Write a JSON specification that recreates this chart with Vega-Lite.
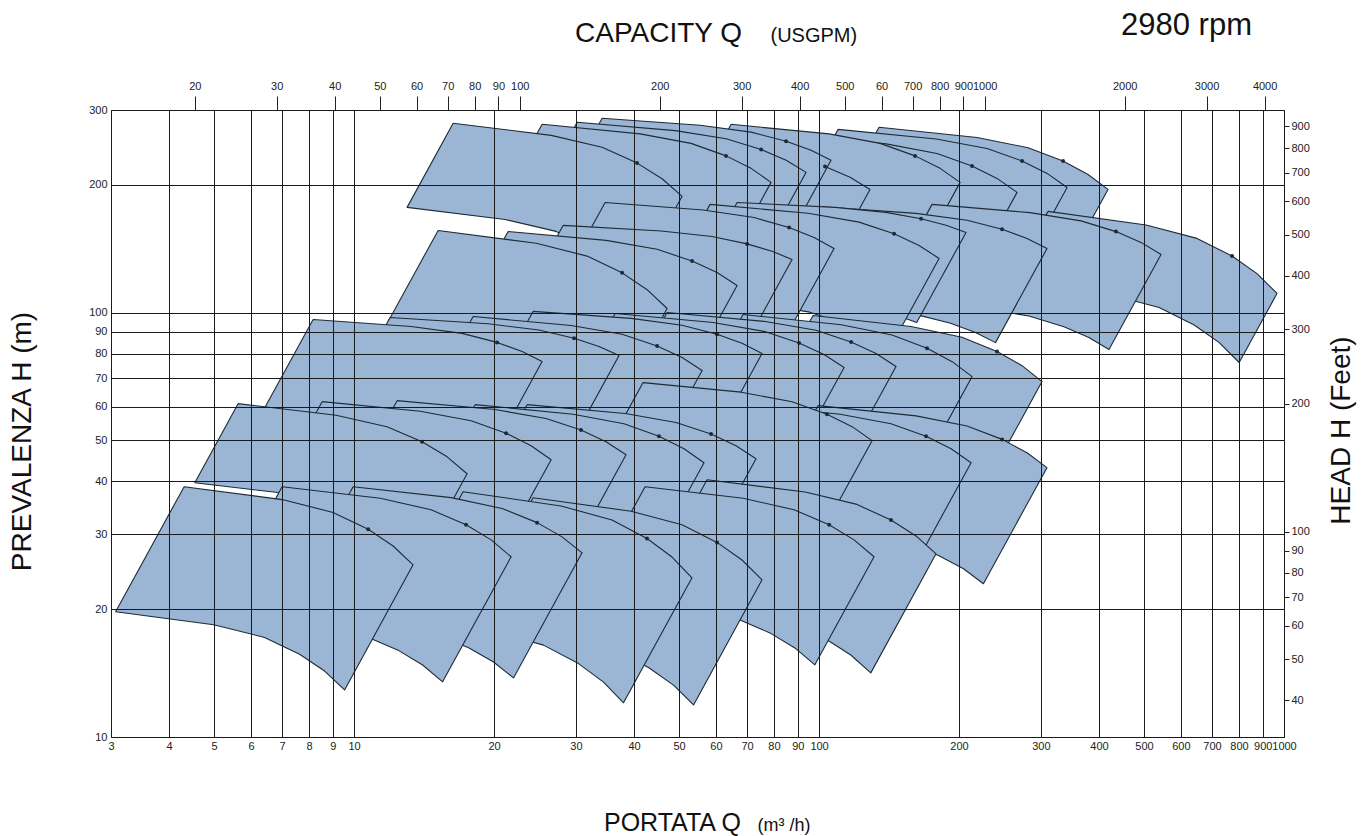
{
"$schema": "https://vega.github.io/schema/vega-lite/v6.json",
"width": 1173, "height": 627,
"autosize": {"type": "none"},
"padding": {"left": 111, "top": 110, "right": 86, "bottom": 99},
"background": "white",
"config": {"view": {"stroke": "#3a3a3a", "strokeWidth": 1}, "font": "Liberation Sans",
 "axis": {"labelFont": "Liberation Sans", "titleFont": "Liberation Sans", "labelColor": "#222", "titleColor": "#111", "titleFontWeight": "normal"}},
"title": {"text": "2980 rpm", "anchor": "end", "frame": "group", "fontSize": 31, "font": "Liberation Sans Narrow, Liberation Sans", "fontWeight": "normal", "color": "#111", "dx": -32, "dy": 27},
"datasets": {"tiles": [
{"t":"t00","i":0,"q":134.6,"h":273.1},{"t":"t00","i":1,"q":218.7,"h":258.4},{"t":"t00","i":2,"q":281.5,"h":244.5},{"t":"t00","i":3,"q":334.8,"h":227.4},{"t":"t00","i":4,"q":378.9,"h":211.5},{"t":"t00","i":5,"q":418.3,"h":195.0},{"t":"t00","i":6,"q":333.1,"h":123.6},{"t":"t00","i":7,"q":301.7,"h":134.1},{"t":"t00","i":8,"q":266.5,"h":144.1},{"t":"t00","i":9,"q":224.1,"h":155.0},{"t":"t00","i":10,"q":174.1,"h":163.8},{"t":"t00","i":11,"q":107.2,"h":173.1},{"t":"t00","i":12,"q":134.6,"h":273.1},
{"t":"t01","i":0,"q":109.9,"h":270.1},{"t":"t01","i":1,"q":178.6,"h":256.4},{"t":"t01","i":2,"q":229.8,"h":243.5},{"t":"t01","i":3,"q":273.3,"h":227.6},{"t":"t01","i":4,"q":309.4,"h":212.7},{"t":"t01","i":5,"q":341.6,"h":197.1},{"t":"t01","i":6,"q":272.0,"h":124.9},{"t":"t01","i":7,"q":246.3,"h":134.8},{"t":"t01","i":8,"q":217.6,"h":144.3},{"t":"t01","i":9,"q":183.0,"h":154.4},{"t":"t01","i":10,"q":142.2,"h":162.5},{"t":"t01","i":11,"q":87.5,"h":171.2},{"t":"t01","i":12,"q":109.9,"h":270.1},
{"t":"t02","i":0,"q":85.77,"h":262.9},{"t":"t02","i":1,"q":139.4,"h":249.6},{"t":"t02","i":2,"q":179.3,"h":237.0},{"t":"t02","i":3,"q":213.3,"h":221.5},{"t":"t02","i":4,"q":241.4,"h":207.0},{"t":"t02","i":5,"q":266.6,"h":191.9},{"t":"t02","i":6,"q":212.2,"h":121.6},{"t":"t02","i":7,"q":192.2,"h":131.2},{"t":"t02","i":8,"q":169.8,"h":140.4},{"t":"t02","i":9,"q":142.8,"h":150.2},{"t":"t02","i":10,"q":111.0,"h":158.2},{"t":"t02","i":11,"q":68.29,"h":166.7},{"t":"t02","i":12,"q":85.77,"h":262.9},
{"t":"t03","i":0,"q":64.69,"h":277.6},{"t":"t03","i":1,"q":105.1,"h":263.5},{"t":"t03","i":2,"q":135.3,"h":250.3},{"t":"t03","i":3,"q":160.9,"h":233.9},{"t":"t03","i":4,"q":182.1,"h":218.6},{"t":"t03","i":5,"q":201.1,"h":202.6},{"t":"t03","i":6,"q":160.1,"h":128.4},{"t":"t03","i":7,"q":145.0,"h":138.6},{"t":"t03","i":8,"q":128.1,"h":148.3},{"t":"t03","i":9,"q":107.7,"h":158.7},{"t":"t03","i":10,"q":83.70,"h":167.1},{"t":"t03","i":11,"q":51.51,"h":176.0},{"t":"t03","i":12,"q":64.69,"h":277.6},
{"t":"t04","i":0,"q":41.42,"h":255.9},{"t":"t04","i":1,"q":67.31,"h":244.7},{"t":"t04","i":2,"q":86.61,"h":234.0},{"t":"t04","i":3,"q":103.0,"h":220.8},{"t":"t04","i":4,"q":116.6,"h":208.3},{"t":"t04","i":5,"q":128.7,"h":195.0},{"t":"t04","i":6,"q":102.5,"h":123.6},{"t":"t04","i":7,"q":92.84,"h":132.0},{"t":"t04","i":8,"q":82.02,"h":140.0},{"t":"t04","i":9,"q":68.96,"h":148.3},{"t":"t04","i":10,"q":53.59,"h":155.1},{"t":"t04","i":11,"q":32.98,"h":162.2},{"t":"t04","i":12,"q":41.42,"h":255.9},
{"t":"t05","i":0,"q":34.15,"h":286.8},{"t":"t05","i":1,"q":55.49,"h":276.2},{"t":"t05","i":2,"q":71.41,"h":266.1},{"t":"t05","i":3,"q":84.93,"h":253.3},{"t":"t05","i":4,"q":96.13,"h":241.2},{"t":"t05","i":5,"q":106.1,"h":228.3},{"t":"t05","i":6,"q":84.51,"h":144.7},{"t":"t05","i":7,"q":76.54,"h":152.9},{"t":"t05","i":8,"q":67.62,"h":160.6},{"t":"t05","i":9,"q":56.86,"h":168.7},{"t":"t05","i":10,"q":44.18,"h":175.1},{"t":"t05","i":11,"q":27.19,"h":181.8},{"t":"t05","i":12,"q":34.15,"h":286.8},
{"t":"t06","i":0,"q":30.18,"h":280.6},{"t":"t06","i":1,"q":49.04,"h":268.3},{"t":"t06","i":2,"q":63.11,"h":256.6},{"t":"t06","i":3,"q":75.06,"h":242.1},{"t":"t06","i":4,"q":84.96,"h":228.4},{"t":"t06","i":5,"q":93.80,"h":213.9},{"t":"t06","i":6,"q":74.68,"h":135.6},{"t":"t06","i":7,"q":67.65,"h":144.8},{"t":"t06","i":8,"q":59.76,"h":153.5},{"t":"t06","i":9,"q":50.25,"h":162.7},{"t":"t06","i":10,"q":39.05,"h":170.1},{"t":"t06","i":11,"q":24.03,"h":177.9},{"t":"t06","i":12,"q":30.18,"h":280.6},
{"t":"t07","i":0,"q":25.37,"h":277.6},{"t":"t07","i":1,"q":41.23,"h":263.5},{"t":"t07","i":2,"q":53.05,"h":250.3},{"t":"t07","i":3,"q":63.10,"h":233.9},{"t":"t07","i":4,"q":71.42,"h":218.6},{"t":"t07","i":5,"q":78.85,"h":202.6},{"t":"t07","i":6,"q":62.78,"h":128.4},{"t":"t07","i":7,"q":56.86,"h":138.6},{"t":"t07","i":8,"q":50.24,"h":148.3},{"t":"t07","i":9,"q":42.24,"h":158.7},{"t":"t07","i":10,"q":32.83,"h":167.1},{"t":"t07","i":11,"q":20.20,"h":176.0},{"t":"t07","i":12,"q":25.37,"h":277.6},
{"t":"t08","i":0,"q":16.33,"h":279.1},{"t":"t08","i":1,"q":26.54,"h":261.4},{"t":"t08","i":2,"q":34.15,"h":245.0},{"t":"t08","i":3,"q":40.61,"h":224.9},{"t":"t08","i":4,"q":45.97,"h":206.6},{"t":"t08","i":5,"q":50.75,"h":187.8},{"t":"t08","i":6,"q":40.41,"h":119.0},{"t":"t08","i":7,"q":36.60,"h":131.0},{"t":"t08","i":8,"q":32.33,"h":142.6},{"t":"t08","i":9,"q":27.19,"h":155.3},{"t":"t08","i":10,"q":21.13,"h":165.7},{"t":"t08","i":11,"q":13.00,"h":176.9},{"t":"t08","i":12,"q":16.33,"h":279.1},
{"t":"t09","i":0,"q":310.8,"h":173.1},{"t":"t09","i":1,"q":505.1,"h":160.8},{"t":"t09","i":2,"q":649.9,"h":149.5},{"t":"t09","i":3,"q":773.0,"h":135.9},{"t":"t09","i":4,"q":874.9,"h":123.5},{"t":"t09","i":5,"q":966.0,"h":110.9},{"t":"t09","i":6,"q":801.0,"h":76.25},{"t":"t09","i":7,"q":725.5,"h":84.92},{"t":"t09","i":8,"q":641.0,"h":93.44},{"t":"t09","i":9,"q":538.9,"h":102.8},{"t":"t09","i":10,"q":418.8,"h":110.6},{"t":"t09","i":11,"q":257.7,"h":119.0},{"t":"t09","i":12,"q":310.8,"h":173.1},
{"t":"t10","i":0,"q":175.0,"h":179.8},{"t":"t10","i":1,"q":284.4,"h":171.9},{"t":"t10","i":2,"q":365.9,"h":164.4},{"t":"t10","i":3,"q":435.2,"h":155.1},{"t":"t10","i":4,"q":492.6,"h":146.3},{"t":"t10","i":5,"q":543.9,"h":137.0},{"t":"t10","i":6,"q":420.3,"h":81.80},{"t":"t10","i":7,"q":380.6,"h":87.36},{"t":"t10","i":8,"q":336.3,"h":92.61},{"t":"t10","i":9,"q":282.7,"h":98.16},{"t":"t10","i":10,"q":219.8,"h":102.6},{"t":"t10","i":11,"q":135.2,"h":107.4},{"t":"t10","i":12,"q":175.0,"h":179.8},
{"t":"t11","i":0,"q":99.50,"h":177.8},{"t":"t11","i":1,"q":161.7,"h":171.2},{"t":"t11","i":2,"q":208.1,"h":164.9},{"t":"t11","i":3,"q":247.5,"h":157.1},{"t":"t11","i":4,"q":280.1,"h":149.5},{"t":"t11","i":5,"q":309.2,"h":141.5},{"t":"t11","i":6,"q":239.6,"h":84.94},{"t":"t11","i":7,"q":217.0,"h":89.75},{"t":"t11","i":8,"q":191.8,"h":94.31},{"t":"t11","i":9,"q":161.2,"h":98.99},{"t":"t11","i":10,"q":125.3,"h":102.8},{"t":"t11","i":11,"q":77.09,"h":106.7},{"t":"t11","i":12,"q":99.50,"h":177.8},
{"t":"t12","i":0,"q":66.64,"h":181.7},{"t":"t12","i":1,"q":108.3,"h":176.9},{"t":"t12","i":2,"q":139.3,"h":172.2},{"t":"t12","i":3,"q":165.7,"h":166.3},{"t":"t12","i":4,"q":187.6,"h":160.6},{"t":"t12","i":5,"q":207.1,"h":154.4},{"t":"t12","i":6,"q":162.2,"h":94.74},{"t":"t12","i":7,"q":146.9,"h":98.54},{"t":"t12","i":8,"q":129.8,"h":102.0},{"t":"t12","i":9,"q":109.1,"h":105.7},{"t":"t12","i":10,"q":84.83,"h":108.5},{"t":"t12","i":11,"q":52.20,"h":111.5},{"t":"t12","i":12,"q":66.64,"h":181.7},
{"t":"t13","i":0,"q":58.29,"h":179.8},{"t":"t13","i":1,"q":94.72,"h":171.3},{"t":"t13","i":2,"q":121.9,"h":163.3},{"t":"t13","i":3,"q":145.0,"h":153.3},{"t":"t13","i":4,"q":164.1,"h":143.9},{"t":"t13","i":5,"q":181.2,"h":134.1},{"t":"t13","i":6,"q":141.9,"h":82.28},{"t":"t13","i":7,"q":128.5,"h":88.30},{"t":"t13","i":8,"q":113.6,"h":94.06},{"t":"t13","i":9,"q":95.48,"h":100.2},{"t":"t13","i":10,"q":74.19,"h":105.1},{"t":"t13","i":11,"q":45.66,"h":110.3},{"t":"t13","i":12,"q":58.29,"h":179.8},
{"t":"t14","i":0,"q":34.66,"h":181.7},{"t":"t14","i":1,"q":56.32,"h":174.4},{"t":"t14","i":2,"q":72.47,"h":167.4},{"t":"t14","i":3,"q":86.20,"h":158.6},{"t":"t14","i":4,"q":97.57,"h":150.3},{"t":"t14","i":5,"q":107.7,"h":141.5},{"t":"t14","i":6,"q":84.38,"h":86.82},{"t":"t14","i":7,"q":76.43,"h":92.22},{"t":"t14","i":8,"q":67.52,"h":97.32},{"t":"t14","i":9,"q":56.77,"h":102.7},{"t":"t14","i":10,"q":44.12,"h":107.0},{"t":"t14","i":11,"q":27.15,"h":111.5},{"t":"t14","i":12,"q":34.66,"h":181.7},
{"t":"t15","i":0,"q":28.15,"h":160.4},{"t":"t15","i":1,"q":45.74,"h":155.6},{"t":"t15","i":2,"q":58.86,"h":151.0},{"t":"t15","i":3,"q":70.01,"h":145.1},{"t":"t15","i":4,"q":79.24,"h":139.4},{"t":"t15","i":5,"q":87.49,"h":133.4},{"t":"t15","i":6,"q":68.53,"h":81.85},{"t":"t15","i":7,"q":62.07,"h":85.53},{"t":"t15","i":8,"q":54.84,"h":89.03},{"t":"t15","i":9,"q":46.11,"h":92.65},{"t":"t15","i":10,"q":35.83,"h":95.48},{"t":"t15","i":11,"q":22.05,"h":98.42},{"t":"t15","i":12,"q":28.15,"h":160.4},
{"t":"t16","i":0,"q":21.44,"h":155.2},{"t":"t16","i":1,"q":34.84,"h":147.9},{"t":"t16","i":2,"q":44.83,"h":140.9},{"t":"t16","i":3,"q":53.32,"h":132.3},{"t":"t16","i":4,"q":60.35,"h":124.2},{"t":"t16","i":5,"q":66.64,"h":115.8},{"t":"t16","i":6,"q":52.20,"h":71.06},{"t":"t16","i":7,"q":47.27,"h":76.21},{"t":"t16","i":8,"q":41.77,"h":81.18},{"t":"t16","i":9,"q":35.12,"h":86.46},{"t":"t16","i":10,"q":27.29,"h":90.75},{"t":"t16","i":11,"q":16.79,"h":95.23},{"t":"t16","i":12,"q":21.44,"h":155.2},
{"t":"t17","i":0,"q":15.16,"h":156.1},{"t":"t17","i":1,"q":24.64,"h":145.6},{"t":"t17","i":2,"q":31.70,"h":135.8},{"t":"t17","i":3,"q":37.70,"h":124.0},{"t":"t17","i":4,"q":42.68,"h":113.2},{"t":"t17","i":5,"q":47.12,"h":102.2},{"t":"t17","i":6,"q":36.91,"h":62.71},{"t":"t17","i":7,"q":33.43,"h":69.46},{"t":"t17","i":8,"q":29.53,"h":76.09},{"t":"t17","i":9,"q":24.83,"h":83.33},{"t":"t17","i":10,"q":19.30,"h":89.34},{"t":"t17","i":11,"q":11.87,"h":95.78},{"t":"t17","i":12,"q":15.16,"h":156.1},
{"t":"t18","i":0,"q":97.07,"h":98.38},{"t":"t18","i":1,"q":157.7,"h":92.73},{"t":"t18","i":2,"q":203.0,"h":87.44},{"t":"t18","i":3,"q":241.4,"h":80.96},{"t":"t18","i":4,"q":273.3,"h":74.95},{"t":"t18","i":5,"q":301.7,"h":68.75},{"t":"t18","i":6,"q":236.3,"h":42.18},{"t":"t18","i":7,"q":214.1,"h":45.99},{"t":"t18","i":8,"q":189.1,"h":49.68},{"t":"t18","i":9,"q":159.0,"h":53.65},{"t":"t18","i":10,"q":123.5,"h":56.90},{"t":"t18","i":11,"q":76.04,"h":60.37},{"t":"t18","i":12,"q":97.07,"h":98.38},
{"t":"t19","i":0,"q":68.65,"h":98.92},{"t":"t19","i":1,"q":111.6,"h":93.58},{"t":"t19","i":2,"q":143.5,"h":88.54},{"t":"t19","i":3,"q":170.7,"h":82.36},{"t":"t19","i":4,"q":193.3,"h":76.61},{"t":"t19","i":5,"q":213.4,"h":70.64},{"t":"t19","i":6,"q":167.2,"h":43.35},{"t":"t19","i":7,"q":151.4,"h":47.01},{"t":"t19","i":8,"q":133.7,"h":50.54},{"t":"t19","i":9,"q":112.4,"h":54.33},{"t":"t19","i":10,"q":87.42,"h":57.42},{"t":"t19","i":11,"q":53.77,"h":60.70},{"t":"t19","i":12,"q":68.65,"h":98.92},
{"t":"t20","i":0,"q":47.11,"h":100.0},{"t":"t20","i":1,"q":76.55,"h":95.28},{"t":"t20","i":2,"q":98.51,"h":90.80},{"t":"t20","i":3,"q":117.2,"h":85.25},{"t":"t20","i":4,"q":132.6,"h":80.04},{"t":"t20","i":5,"q":146.4,"h":74.59},{"t":"t20","i":6,"q":114.7,"h":45.77},{"t":"t20","i":7,"q":103.9,"h":49.11},{"t":"t20","i":8,"q":91.80,"h":52.31},{"t":"t20","i":9,"q":77.16,"h":55.71},{"t":"t20","i":10,"q":59.96,"h":58.46},{"t":"t20","i":11,"q":36.90,"h":61.36},{"t":"t20","i":12,"q":47.11,"h":100.0},
{"t":"t21","i":0,"q":36.42,"h":99.45},{"t":"t21","i":1,"q":59.18,"h":94.76},{"t":"t21","i":2,"q":76.15,"h":90.30},{"t":"t21","i":3,"q":90.58,"h":84.78},{"t":"t21","i":4,"q":102.5,"h":79.60},{"t":"t21","i":5,"q":113.2,"h":74.18},{"t":"t21","i":6,"q":88.67,"h":45.52},{"t":"t21","i":7,"q":80.29,"h":48.84},{"t":"t21","i":8,"q":70.95,"h":52.02},{"t":"t21","i":9,"q":59.65,"h":55.41},{"t":"t21","i":10,"q":46.36,"h":58.14},{"t":"t21","i":11,"q":28.53,"h":61.02},{"t":"t21","i":12,"q":36.42,"h":99.45},
{"t":"t22","i":0,"q":24.26,"h":100.6},{"t":"t22","i":1,"q":39.42,"h":96.89},{"t":"t22","i":2,"q":50.73,"h":93.33},{"t":"t22","i":3,"q":60.33,"h":88.86},{"t":"t22","i":4,"q":68.29,"h":84.60},{"t":"t22","i":5,"q":75.40,"h":80.08},{"t":"t22","i":6,"q":59.06,"h":49.14},{"t":"t22","i":7,"q":53.49,"h":51.91},{"t":"t22","i":8,"q":47.26,"h":54.52},{"t":"t22","i":9,"q":39.74,"h":57.27},{"t":"t22","i":10,"q":30.88,"h":59.45},{"t":"t22","i":11,"q":19.00,"h":61.73},{"t":"t22","i":12,"q":24.26,"h":100.6},
{"t":"t23","i":0,"q":18.03,"h":97.86},{"t":"t23","i":1,"q":29.30,"h":93.24},{"t":"t23","i":2,"q":37.70,"h":88.86},{"t":"t23","i":3,"q":44.84,"h":83.43},{"t":"t23","i":4,"q":50.75,"h":78.33},{"t":"t23","i":5,"q":56.04,"h":72.99},{"t":"t23","i":6,"q":43.90,"h":44.79},{"t":"t23","i":7,"q":39.75,"h":48.06},{"t":"t23","i":8,"q":35.12,"h":51.19},{"t":"t23","i":9,"q":29.53,"h":54.52},{"t":"t23","i":10,"q":22.95,"h":57.21},{"t":"t23","i":11,"q":14.12,"h":60.05},{"t":"t23","i":12,"q":18.03,"h":97.86},
{"t":"t24","i":0,"q":11.95,"h":97.32},{"t":"t24","i":1,"q":19.42,"h":94.06},{"t":"t24","i":2,"q":24.99,"h":90.94},{"t":"t24","i":3,"q":29.72,"h":86.98},{"t":"t24","i":4,"q":33.64,"h":83.21},{"t":"t24","i":5,"q":37.14,"h":79.17},{"t":"t24","i":6,"q":29.09,"h":48.58},{"t":"t24","i":7,"q":26.35,"h":51.06},{"t":"t24","i":8,"q":23.28,"h":53.37},{"t":"t24","i":9,"q":19.57,"h":55.80},{"t":"t24","i":10,"q":15.21,"h":57.72},{"t":"t24","i":11,"q":9.361,"h":59.72},{"t":"t24","i":12,"q":11.95,"h":97.32},
{"t":"t25","i":0,"q":8.162,"h":96.27},{"t":"t25","i":1,"q":13.26,"h":92.72},{"t":"t25","i":2,"q":17.07,"h":89.31},{"t":"t25","i":3,"q":20.30,"h":85.04},{"t":"t25","i":4,"q":22.98,"h":80.96},{"t":"t25","i":5,"q":25.37,"h":76.63},{"t":"t25","i":6,"q":19.87,"h":47.02},{"t":"t25","i":7,"q":18.00,"h":49.68},{"t":"t25","i":8,"q":15.90,"h":52.18},{"t":"t25","i":9,"q":13.37,"h":54.80},{"t":"t25","i":10,"q":10.39,"h":56.89},{"t":"t25","i":11,"q":6.393,"h":59.07},{"t":"t25","i":12,"q":8.162,"h":96.27},
{"t":"t26","i":0,"q":99.50,"h":60.35},{"t":"t26","i":1,"q":161.7,"h":57.09},{"t":"t26","i":2,"q":208.1,"h":54.02},{"t":"t26","i":3,"q":247.5,"h":50.25},{"t":"t26","i":4,"q":280.1,"h":46.74},{"t":"t26","i":5,"q":309.2,"h":43.10},{"t":"t26","i":6,"q":225.7,"h":22.97},{"t":"t26","i":7,"q":204.5,"h":24.91},{"t":"t26","i":8,"q":180.7,"h":26.78},{"t":"t26","i":9,"q":151.9,"h":28.79},{"t":"t26","i":10,"q":118.0,"h":30.42},{"t":"t26","i":11,"q":72.64,"h":32.16},{"t":"t26","i":12,"q":99.50,"h":60.35},
{"t":"t27","i":0,"q":68.30,"h":60.67},{"t":"t27","i":1,"q":111.0,"h":57.60},{"t":"t27","i":2,"q":142.8,"h":54.70},{"t":"t27","i":3,"q":169.9,"h":51.11},{"t":"t27","i":4,"q":192.3,"h":47.77},{"t":"t27","i":5,"q":212.3,"h":44.28},{"t":"t27","i":6,"q":168.6,"h":27.92},{"t":"t27","i":7,"q":152.7,"h":30.12},{"t":"t27","i":8,"q":134.9,"h":32.23},{"t":"t27","i":9,"q":113.4,"h":34.49},{"t":"t27","i":10,"q":88.13,"h":36.32},{"t":"t27","i":11,"q":54.23,"h":38.25},{"t":"t27","i":12,"q":68.30,"h":60.67},
{"t":"t28","i":0,"q":41.83,"h":68.38},{"t":"t28","i":1,"q":67.97,"h":64.92},{"t":"t28","i":2,"q":87.47,"h":61.65},{"t":"t28","i":3,"q":104.0,"h":57.61},{"t":"t28","i":4,"q":117.8,"h":53.84},{"t":"t28","i":5,"q":130.0,"h":49.90},{"t":"t28","i":6,"q":103.2,"h":31.46},{"t":"t28","i":7,"q":93.53,"h":33.95},{"t":"t28","i":8,"q":82.58,"h":36.32},{"t":"t28","i":9,"q":69.45,"h":38.87},{"t":"t28","i":10,"q":53.97,"h":40.93},{"t":"t28","i":11,"q":33.21,"h":43.11},{"t":"t28","i":12,"q":41.83,"h":68.38},
{"t":"t29","i":0,"q":23.55,"h":60.67},{"t":"t29","i":1,"q":38.27,"h":57.81},{"t":"t29","i":2,"q":49.24,"h":55.09},{"t":"t29","i":3,"q":58.57,"h":51.72},{"t":"t29","i":4,"q":66.29,"h":48.56},{"t":"t29","i":5,"q":73.19,"h":45.25},{"t":"t29","i":6,"q":58.11,"h":28.53},{"t":"t29","i":7,"q":52.63,"h":30.62},{"t":"t29","i":8,"q":46.50,"h":32.61},{"t":"t29","i":9,"q":39.10,"h":34.73},{"t":"t29","i":10,"q":30.39,"h":36.45},{"t":"t29","i":11,"q":18.70,"h":38.25},{"t":"t29","i":12,"q":23.55,"h":60.67},
{"t":"t30","i":0,"q":18.20,"h":60.67},{"t":"t30","i":1,"q":29.58,"h":57.60},{"t":"t30","i":2,"q":38.06,"h":54.70},{"t":"t30","i":3,"q":45.26,"h":51.11},{"t":"t30","i":4,"q":51.23,"h":47.77},{"t":"t30","i":5,"q":56.57,"h":44.28},{"t":"t30","i":6,"q":44.91,"h":27.92},{"t":"t30","i":7,"q":40.68,"h":30.12},{"t":"t30","i":8,"q":35.94,"h":32.23},{"t":"t30","i":9,"q":30.22,"h":34.49},{"t":"t30","i":10,"q":23.48,"h":36.32},{"t":"t30","i":11,"q":14.45,"h":38.25},{"t":"t30","i":12,"q":18.20,"h":60.67},
{"t":"t31","i":0,"q":12.37,"h":62.00},{"t":"t31","i":1,"q":20.10,"h":59.07},{"t":"t31","i":2,"q":25.87,"h":56.30},{"t":"t31","i":3,"q":30.76,"h":52.86},{"t":"t31","i":4,"q":34.82,"h":49.62},{"t":"t31","i":5,"q":38.45,"h":46.25},{"t":"t31","i":6,"q":30.53,"h":29.16},{"t":"t31","i":7,"q":27.65,"h":31.29},{"t":"t31","i":8,"q":24.42,"h":33.33},{"t":"t31","i":9,"q":20.54,"h":35.50},{"t":"t31","i":10,"q":15.96,"h":37.24},{"t":"t31","i":11,"q":9.822,"h":39.09},{"t":"t31","i":12,"q":12.37,"h":62.00},
{"t":"t32","i":0,"q":8.535,"h":61.66},{"t":"t32","i":1,"q":13.87,"h":58.54},{"t":"t32","i":2,"q":17.85,"h":55.59},{"t":"t32","i":3,"q":21.23,"h":51.95},{"t":"t32","i":4,"q":24.03,"h":48.55},{"t":"t32","i":5,"q":26.53,"h":45.00},{"t":"t32","i":6,"q":21.06,"h":28.37},{"t":"t32","i":7,"q":19.08,"h":30.61},{"t":"t32","i":8,"q":16.86,"h":32.75},{"t":"t32","i":9,"q":14.17,"h":35.05},{"t":"t32","i":10,"q":11.01,"h":36.91},{"t":"t32","i":11,"q":6.777,"h":38.88},{"t":"t32","i":12,"q":8.535,"h":61.66},
{"t":"t33","i":0,"q":5.629,"h":61.00},{"t":"t33","i":1,"q":9.147,"h":57.29},{"t":"t33","i":2,"q":11.77,"h":53.83},{"t":"t33","i":3,"q":14.00,"h":49.61},{"t":"t33","i":4,"q":15.85,"h":45.71},{"t":"t33","i":5,"q":17.50,"h":41.71},{"t":"t33","i":6,"q":14.12,"h":27.16},{"t":"t33","i":7,"q":12.79,"h":29.77},{"t":"t33","i":8,"q":11.30,"h":32.31},{"t":"t33","i":9,"q":9.498,"h":35.05},{"t":"t33","i":10,"q":7.382,"h":37.31},{"t":"t33","i":11,"q":4.543,"h":39.72},{"t":"t33","i":12,"q":5.629,"h":61.00},
{"t":"t34","i":0,"q":57.42,"h":40.37},{"t":"t34","i":1,"q":93.31,"h":37.78},{"t":"t34","i":2,"q":120.1,"h":35.37},{"t":"t34","i":3,"q":142.8,"h":32.44},{"t":"t34","i":4,"q":161.6,"h":29.76},{"t":"t34","i":5,"q":178.5,"h":27.01},{"t":"t34","i":6,"q":129.2,"h":14.16},{"t":"t34","i":7,"q":117.0,"h":15.60},{"t":"t34","i":8,"q":103.4,"h":17.01},{"t":"t34","i":9,"q":86.95,"h":18.54},{"t":"t34","i":10,"q":67.56,"h":19.80},{"t":"t34","i":11,"q":41.57,"h":21.16},{"t":"t34","i":12,"q":57.42,"h":40.37},
{"t":"t35","i":0,"q":42.25,"h":38.87},{"t":"t35","i":1,"q":68.66,"h":36.51},{"t":"t35","i":2,"q":88.34,"h":34.30},{"t":"t35","i":3,"q":105.1,"h":31.61},{"t":"t35","i":4,"q":118.9,"h":29.13},{"t":"t35","i":5,"q":131.3,"h":26.58},{"t":"t35","i":6,"q":97.95,"h":14.79},{"t":"t35","i":7,"q":88.70,"h":16.21},{"t":"t35","i":8,"q":78.40,"h":17.59},{"t":"t35","i":9,"q":65.90,"h":19.09},{"t":"t35","i":10,"q":51.22,"h":20.32},{"t":"t35","i":11,"q":31.52,"h":21.63},{"t":"t35","i":12,"q":42.25,"h":38.87},
{"t":"t36","i":0,"q":24.26,"h":36.62},{"t":"t36","i":1,"q":39.42,"h":34.03},{"t":"t36","i":2,"q":50.73,"h":31.63},{"t":"t36","i":3,"q":60.33,"h":28.74},{"t":"t36","i":4,"q":68.29,"h":26.12},{"t":"t36","i":5,"q":75.40,"h":23.46},{"t":"t36","i":6,"q":53.71,"h":11.90},{"t":"t36","i":7,"q":48.64,"h":13.25},{"t":"t36","i":8,"q":42.97,"h":14.58},{"t":"t36","i":9,"q":36.13,"h":16.05},{"t":"t36","i":10,"q":28.08,"h":17.27},{"t":"t36","i":11,"q":17.28,"h":18.58},{"t":"t36","i":12,"q":24.26,"h":36.62},
{"t":"t37","i":0,"q":17.15,"h":37.83},{"t":"t37","i":1,"q":27.87,"h":35.02},{"t":"t37","i":2,"q":35.86,"h":32.44},{"t":"t37","i":3,"q":42.65,"h":29.35},{"t":"t37","i":4,"q":48.28,"h":26.54},{"t":"t37","i":5,"q":53.30,"h":23.72},{"t":"t37","i":6,"q":37.97,"h":12.04},{"t":"t37","i":7,"q":34.39,"h":13.47},{"t":"t37","i":8,"q":30.38,"h":14.89},{"t":"t37","i":9,"q":25.54,"h":16.46},{"t":"t37","i":10,"q":19.85,"h":17.77},{"t":"t37","i":11,"q":12.22,"h":19.20},{"t":"t37","i":12,"q":17.15,"h":37.83},
{"t":"t38","i":0,"q":9.950,"h":38.87},{"t":"t38","i":1,"q":16.17,"h":36.64},{"t":"t38","i":2,"q":20.81,"h":34.55},{"t":"t38","i":3,"q":24.75,"h":31.99},{"t":"t38","i":4,"q":28.01,"h":29.61},{"t":"t38","i":5,"q":30.92,"h":27.16},{"t":"t38","i":6,"q":22.02,"h":13.78},{"t":"t38","i":7,"q":19.95,"h":15.02},{"t":"t38","i":8,"q":17.63,"h":16.23},{"t":"t38","i":9,"q":14.82,"h":17.53},{"t":"t38","i":10,"q":11.52,"h":18.59},{"t":"t38","i":11,"q":7.087,"h":19.72},{"t":"t38","i":12,"q":9.950,"h":38.87},
{"t":"t39","i":0,"q":7.000,"h":38.87},{"t":"t39","i":1,"q":11.38,"h":36.51},{"t":"t39","i":2,"q":14.64,"h":34.30},{"t":"t39","i":3,"q":17.41,"h":31.61},{"t":"t39","i":4,"q":19.71,"h":29.13},{"t":"t39","i":5,"q":21.76,"h":26.58},{"t":"t39","i":6,"q":15.50,"h":13.49},{"t":"t39","i":7,"q":14.04,"h":14.78},{"t":"t39","i":8,"q":12.40,"h":16.04},{"t":"t39","i":9,"q":10.43,"h":17.40},{"t":"t39","i":10,"q":8.103,"h":18.52},{"t":"t39","i":11,"q":4.986,"h":19.72},{"t":"t39","i":12,"q":7.000,"h":38.87},
{"t":"t40","i":0,"q":4.309,"h":38.87},{"t":"t40","i":1,"q":7.002,"h":36.25},{"t":"t40","i":2,"q":9.010,"h":33.81},{"t":"t40","i":3,"q":10.72,"h":30.87},{"t":"t40","i":4,"q":12.13,"h":28.18},{"t":"t40","i":5,"q":13.39,"h":25.45},{"t":"t40","i":6,"q":9.540,"h":12.91},{"t":"t40","i":7,"q":8.640,"h":14.30},{"t":"t40","i":8,"q":7.633,"h":15.66},{"t":"t40","i":9,"q":6.418,"h":17.16},{"t":"t40","i":10,"q":4.988,"h":18.39},{"t":"t40","i":11,"q":3.069,"h":19.72},{"t":"t40","i":12,"q":4.309,"h":38.87}
]},
"layer": [
 {"data": {"name": "tiles"},
  "encoding": {
   "x": {"field": "q", "type": "quantitative", "scale": {"type": "log", "domain": [3, 1000], "nice": false},
    "axis": {"orient": "bottom", "values": [3,4,5,6,7,8,9,10,20,30,40,50,60,70,80,90,100,200,300,400,500,600,700,800,900,1000], "format": "d",
     "grid": true, "gridColor": "#1a1a1a", "gridWidth": 1, "gridOpacity": 1, "ticks": false, "domain": false,
     "labelFontSize": 11, "labelPadding": 3, "labelOverlap": false, "labelFlush": false, "labelBound": false, "zindex": 1,
     "title": "PORTATA  Q", "titleFontSize": 25, "titleX": 561, "titleY": 93, "titleBaseline": "alphabetic", "titleAlign": "center"}},
   "y": {"field": "h", "type": "quantitative", "scale": {"type": "log", "domain": [10, 300], "nice": false},
    "axis": {"orient": "left", "values": [10,20,30,40,50,60,70,80,90,100,200,300], "format": "d",
     "grid": true, "gridColor": "#1a1a1a", "gridWidth": 1, "gridOpacity": 1, "ticks": false, "domain": false,
     "labelFontSize": 11, "labelPadding": 4, "labelOverlap": false, "zindex": 1,
     "title": "PREVALENZA  H (m)", "titleFontSize": 28, "titleAngle": 270, "titleX": -89, "titleY": 331, "titleBaseline": "middle", "titleAlign": "center"}}
  },
  "layer": [
   {"mark": {"type": "line", "fill": "#9ab6d4", "stroke": "#1e2a36", "strokeWidth": 1.1, "strokeJoin": "round", "clip": true},
    "encoding": {"detail": {"field": "t", "type": "nominal"}, "order": {"field": "i", "type": "quantitative"}}},
   {"transform": [{"filter": "datum.i == 3"}],
    "mark": {"type": "circle", "size": 16, "color": "#1e2a36", "opacity": 1}}
  ]
 },
 {"data": {"values": [{"gpm": 100, "ft": 100}]},
  "mark": {"type": "point", "opacity": 0},
  "encoding": {
   "x": {"field": "gpm", "type": "quantitative", "scale": {"type": "log", "domain": [13.2087, 4402.9], "nice": false},
    "axis": {"orient": "top", "values": [20,30,40,50,60,70,80,90,100,200,300,400,500,600,700,800,900,1000,2000,3000,4000], "format": "d",
     "labelExpr": "datum.value == 600 ? '60' : datum.label",
     "grid": false, "domain": false, "ticks": true, "tickSize": 14, "tickColor": "#222", "tickWidth": 1,
     "labelFontSize": 11, "labelPadding": 5, "labelOverlap": false, "labelFlush": false,
     "title": "CAPACITY  Q", "titleFontSize": 28, "titleX": 547, "titleY": -69, "titleBaseline": "alphabetic", "titleAlign": "center"}},
   "y": {"field": "ft", "type": "quantitative", "scale": {"type": "log", "domain": [32.8084, 984.252], "nice": false},
    "axis": {"orient": "right", "values": [40,50,60,70,80,90,100,200,300,400,500,600,700,800,900], "format": "d",
     "grid": false, "domain": false, "ticks": true, "tickSize": 5, "tickColor": "#222",
     "labelFontSize": 11, "labelPadding": 2, "labelOverlap": false,
     "title": "HEAD  H (Feet)", "titleFontSize": 28, "titleAngle": 270, "titleX": 57, "titleY": 320, "titleBaseline": "middle", "titleAlign": "center"}}
  }
 },
 {"data": {"values": [{"u": 1}]},
  "mark": {"type": "point", "opacity": 0},
  "encoding": {
   "x": {"field": "u", "type": "quantitative", "axis": {"orient": "bottom", "labels": false, "ticks": false, "domain": false, "grid": false,
     "title": "(m³ /h)", "titleFontSize": 18, "titleX": 646, "titleY": 93, "titleBaseline": "alphabetic", "titleAlign": "left"}},
   "y": {"field": "u", "type": "quantitative", "axis": null}
  }
 },
 {"data": {"values": [{"u": 1}]},
  "mark": {"type": "point", "opacity": 0},
  "encoding": {
   "x": {"field": "u", "type": "quantitative", "axis": {"orient": "top", "labels": false, "ticks": false, "domain": false, "grid": false,
     "title": "(USGPM)", "titleFontSize": 20, "titleX": 659, "titleY": -69, "titleBaseline": "alphabetic", "titleAlign": "left"}},
   "y": {"field": "u", "type": "quantitative", "axis": null}
  }
 }
],
"resolve": {"scale": {"x": "independent", "y": "independent"}}
}
